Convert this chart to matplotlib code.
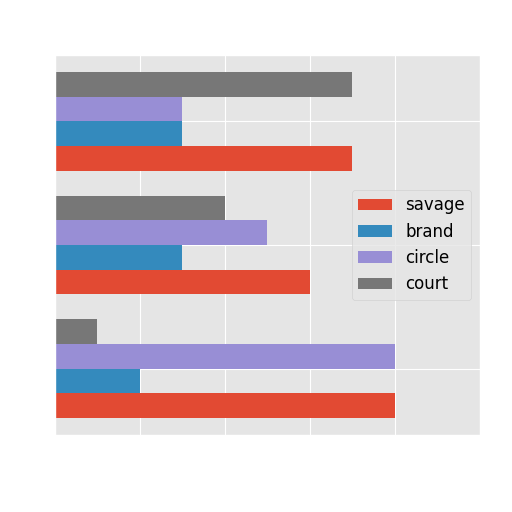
import numpy as np
import matplotlib
matplotlib.use('Agg')
import matplotlib.pyplot as plt

plt.style.use('ggplot')

groups = [0, 1, 2]
savage = [4.0, 3.0, 3.5]
brand = [1.0, 1.5, 1.5]
circle = [4.0, 2.5, 1.5]
court = [0.5, 2.0, 3.5]

series = [('savage', savage), ('brand', brand), ('circle', circle), ('court', court)]

fig = plt.figure(figsize=(5.12, 5.12), dpi=100)
ax = fig.add_axes([0.107, 0.15, 0.83, 0.743])
y = np.array(groups)
h = 0.2
for i, (name, vals) in enumerate(series):
    ax.barh(y + (i - 1.5) * h, vals, height=h, label=name)

ax.set_xlim(0, 5)
ax.set_xticks([0, 1, 2, 3, 4, 5])
ax.set_yticks([0, 1, 2])
ax.tick_params(labelleft=False, labelbottom=False, length=0)
ax.legend(loc='center right', fontsize=12)
plt.savefig('out.png', dpi=100)
